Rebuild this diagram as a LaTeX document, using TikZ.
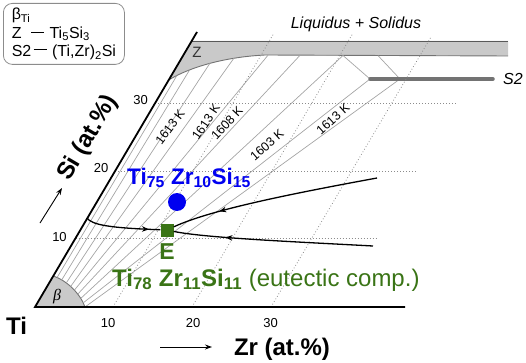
\documentclass[tikz,border=0pt]{standalone}
\usepackage{fontspec}
\setmainfont{Liberation Sans}
\newfontfamily\grkfont{Liberation Serif}
\usepackage{tikz}
\usetikzlibrary{arrows.meta,positioning,decorations.markings}
\definecolor{eutcol}{HTML}{3A7416}
\definecolor{alloycol}{HTML}{0000F0}
\definecolor{phasecol}{HTML}{C9C9C9}
\definecolor{tiecol}{HTML}{A5A5A5}
\newcommand{\chsub}[1]{\textsubscript{#1}}
\newcommand{\lgdash}{\rule[0.32em]{0.8em}{0.7pt}}

\begin{document}
\begin{tikzpicture}[
  x=1pt, y=-1pt,
  tie/.style={draw=tiecol, line width=0.7pt},
  grid/.style={draw=black!45, line width=0.8pt, dash pattern=on 0.8pt off 2.2pt},
  axis/.style={draw=black, line width=1.8pt},
  bound/.style={draw=black!55, line width=0.9pt},
  s2bar/.style={draw=black!55, line width=3.5pt, line cap=round},
  eut/.style={draw=black, line width=1.3pt},
  midtip/.style={postaction={decorate}, decoration={markings,
      mark=at position #1 with {\arrow{Stealth[length=7pt,width=5.5pt]}}}},
  ptr/.style={-{Stealth[length=7pt,width=5pt]}, draw=black, line width=0.9pt},
  esq/.style={fill=eutcol, minimum size=13pt, inner sep=0pt},
  alloydot/.style={circle, fill=alloycol, minimum size=18pt, inner sep=0pt},
  legend/.style={draw=black!45, line width=0.8pt, rounded corners=9pt,
                 minimum width=121pt, minimum height=61pt, align=left,
                 font=\fontsize{16}{18.5}\selectfont, inner sep=0pt},
  tick/.style={font=\fontsize{13}{13}\selectfont, inner sep=0pt},
  tlab/.style={font=\fontsize{12.5}{13}\selectfont, inner sep=0pt},
  axlab/.style={font=\fontsize{24}{24}\selectfont\bfseries, inner sep=0pt},
  phlab/.style={font=\fontsize{16}{16}\selectfont\itshape, inner sep=0pt},
  alloylbl/.style={font=\fontsize{22.5}{23}\selectfont\bfseries, text=alloycol, inner sep=0pt},
  eutlbl/.style={font=\fontsize{24}{24}\selectfont, text=eutcol, inner sep=0pt},
]
\useasboundingbox (0,0) rectangle (526,363);

%============================ LEGEND ============================
\node[legend, anchor=north west] (lgd) at (3,3)
  {β\chsub{Ti}\\
   Z\hspace{0.6em}\lgdash\hspace{0.35em}Ti\chsub{5}Si\chsub{3}\\
   S2\hspace{0.15em}\raisebox{2pt}{\lgdash}\hspace{0.35em}(Ti,Zr)\chsub{2}Si};

%============================ PHASE FIELDS ============================
\coordinate (ti)    at (35,307);
\coordinate (sitop) at (197,32);
\coordinate (zrend) at (405,307);
\coordinate (bx)    at (53.3,276);
\coordinate (by)    at (85,307);
\coordinate (zc)    at (168.7,80);
\coordinate (zt)    at (191.7,41);

\fill[phasecol] (ti) -- (bx) .. controls (66,280) and (80,293) .. (by) -- cycle;
\fill[phasecol] (zc) -- (zt) -- (508,41) -- (508,56) -- (265,55)
  .. controls (225,57) and (190,67) .. (zc) -- cycle;

% beta boundary, with the feet of the tie lines
\draw[bound] (bx) .. controls (66,280) and (80,293) .. (by)
  coordinate[pos=0.1]  (bt1) coordinate[pos=0.22] (bt2) coordinate[pos=0.34] (bt3)
  coordinate[pos=0.46] (bt4) coordinate[pos=0.57] (bt5) coordinate[pos=0.68] (bt6)
  coordinate[pos=0.79] (bt7) coordinate[pos=0.9]  (bt8) coordinate[pos=1]    (bt9);

% Z boundary, with the heads of the tie lines
\draw[bound, draw=black!65] (zt) -- (508,41);
\draw[bound] (508,56) -- (265,55) .. controls (225,57) and (190,67) .. (zc)
  coordinate[pos=0.27] (zt4) coordinate[pos=0.5] (zt3)
  coordinate[pos=0.72] (zt2) coordinate[pos=0.88] (zt1);
\coordinate (zt5) at (268,55.2);
\coordinate (zt6) at (300,55.3);
\coordinate (zt7) at (343,55.5);
\coordinate (zs2) at (378,55.6);
\coordinate (zt8) at (370,79);
\coordinate (zt9) at (400,79);
\coordinate (s2end) at (493,79);

\foreach \i in {1,...,9}
  \draw[tie] (bt\i) -- (zt\i);
\draw[tie] (zt7) -- (zt8);
\draw[tie] (zs2) -- (zt9);
\draw[s2bar] (zt8) -- (s2end);

%============================ GRID ============================
\foreach \ya/\xa/\xb in {238/75.6/378, 171/115.1/416, 103/155.2/456}
  \draw[grid] (\xa,\ya) -- (\xb,\ya);
\foreach \xa/\xb/\yb in {113/274/33, 192/353/33, 271/431/37}
  \draw[grid] (\xa,307) -- (\xb,\yb);

\draw[axis] (sitop) -- (ti) -- (zrend);

%============================ LABELS ============================
\node[tlab, rotate=53] (k1) at (170,127) {1613 K};
\node[tlab, rotate=56] (k2) at (206,122) {1613 K};
\node[tlab, rotate=47] (k3) at (227,123) {1608 K};
\node[tlab, rotate=41] (k4) at (267,145) {1603 K};
\node[tlab, rotate=42] (k5) at (333,119) {1613 K};

\node[font=\fontsize{15}{15}\selectfont, text=black!80, inner sep=0pt] (zlbl) at (197,52) {Z};
\node[font=\fontsize{16}{16}\selectfont\grkfont\itshape, inner sep=0pt] (blbl) at (57,297) {β};
\node[phlab] (liq) at (356,24) {Liquidus + Solidus};
\node[phlab] (s2lbl) at (513,79) {S2};

\foreach \x/\t in {108/10, 193/20, 270.5/30}
  \node[tick] (zrt\t) at (\x,323) {\t};
\foreach \x/\y/\t in {59.5/237/10, 101/168/20, 140.5/100/30}
  \node[tick] (sit\t) at (\x,\y) {\t};

%============================ EUTECTIC ============================
\node[esq] (E) at (167,230) {};
\coordinate (eu1) at (87,218);
\coordinate (eu2) at (377,178);
\coordinate (eu3) at (373,246);
\draw[eut, midtip=0.85] (eu1) .. controls (92,225) and (110,228) .. (E);
\draw[eut, midtip=0.77] (eu2) .. controls (290,194) and (210,210) .. (E);
\draw[eut, midtip=0.74] (eu3) .. controls (300,242) and (205,238) .. (E);

\node[eutlbl, font=\fontsize{23}{23}\selectfont\bfseries, below=7pt of E] (Elbl) {E};
\node[eutlbl, anchor=base west] (Etxt) at (112,286)
  {\textbf{Ti\chsub{78} Zr\chsub{11}Si\chsub{11}} (eutectic comp.)};

\node[alloydot] (A) at (177,202) {};
\node[alloylbl, anchor=base west] (Albl) at (127,184) {Ti\chsub{75} Zr\chsub{10}Si\chsub{15}};

%============================ AXES ============================
\node[axlab] (tilbl) at (16.5,326) {Ti};
\node[axlab, rotate=59.5] (silbl) at (88,138) {Si (at.\%)};
\node[axlab, anchor=base] (zrlbl) at (282,355) {Zr (at.\%)};
\coordinate (sa1) at (40,223);
\coordinate (sa2) at (62,188);
\draw[ptr] (sa1) -- (sa2);
\coordinate (za1) at (160,347);
\coordinate (za2) at (212,347);
\draw[ptr] (za1) -- (za2);

\end{tikzpicture}
\end{document}
